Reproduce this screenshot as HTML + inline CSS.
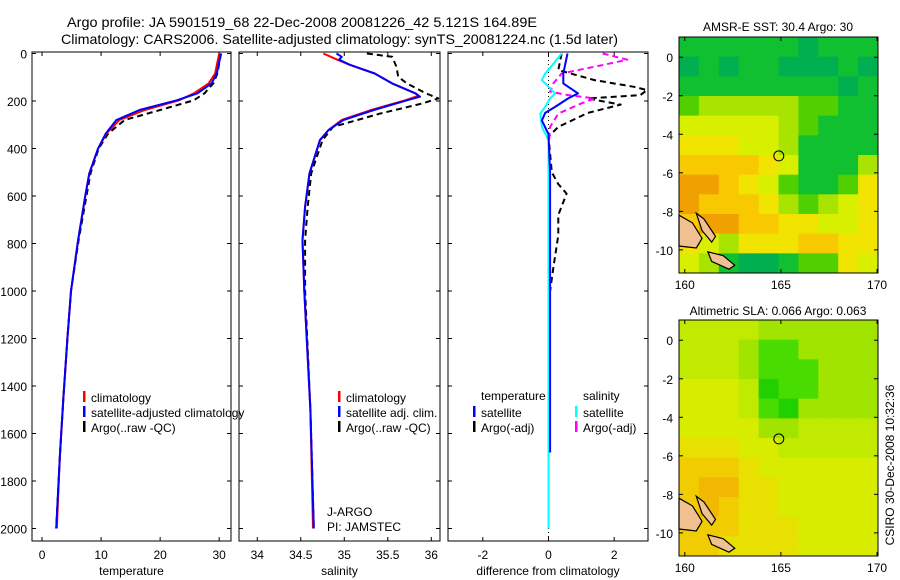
<!DOCTYPE html>
<html><head><meta charset="utf-8">
<style>
html,body{margin:0;padding:0;background:#fff;}
svg{display:block;font-family:"Liberation Sans",sans-serif;}
text{fill:#000;}
</style></head>
<body>
<svg id="fig" width="900" height="580" viewBox="0 0 900 580" xmlns="http://www.w3.org/2000/svg">
<text x="67" y="27" font-size="14" textLength="470" lengthAdjust="spacingAndGlyphs">Argo profile: JA 5901519_68 22-Dec-2008 20081226_42 5.121S 164.89E</text>
<text x="61" y="44" font-size="14" textLength="557" lengthAdjust="spacingAndGlyphs">Climatology: CARS2006. Satellite-adjusted climatology: synTS_20081224.nc (1.5d later)</text>
<text x="778" y="31" font-size="12" text-anchor="middle">AMSR-E SST: 30.4 Argo: 30</text>
<text x="778" y="315" font-size="12" text-anchor="middle">Altimetric SLA: 0.066 Argo: 0.063</text>
<text transform="translate(894,465) rotate(-90)" font-size="12" text-anchor="middle">CSIRO 30-Dec-2008 10:32:36</text>
<g id="plots"></g>
</svg>
<script>
// ---- profile data ----
const depthTicks = [0,200,400,600,800,1000,1200,1400,1600,1800,2000];
const tempTicks = [0,10,20,30];
const salTicks = [34,34.5,35,35.5,36];
const diffTicks = [-2,0,2];

const tClimDepth = [0,84,126,168,197,238,280,337,400,505,604,786,1000,1200,1455,1700,2000];
const tClimVal   = [30.0,29.3,28.2,25.7,23.2,17.4,13.1,10.9,9.5,8.0,7.3,6.1,4.9,4.3,3.6,3.0,2.5];
const tSatDepth  = [0,84,126,168,197,238,280,337,400,505,604,786,1000,1200,1455,1700,2000];
const tSatVal    = [30.3,29.6,28.7,26.3,22.8,16.5,12.6,10.8,9.5,8.0,7.3,6.1,4.9,4.3,3.6,3.0,2.4];
const tArgoDepth = [0,84,126,168,197,238,280,337,400,505,604,786,1000,1200,1455,1700,2000];
const tArgoVal   = [30.3,29.7,29.0,27.5,25.7,20.0,14.0,11.2,9.6,8.2,7.5,6.2,4.9,4.3,3.6,3.0,2.4];

const sClimDepth = [0,26,47,84,126,168,178,197,238,280,322,365,505,645,786,1000,1500,2000];
const sClimVal   = [34.76,34.92,35.06,35.35,35.55,35.82,35.85,35.70,35.31,34.97,34.82,34.72,34.60,34.55,34.52,34.54,34.61,34.64];
const sSatDepth  = [0,14,26,47,84,126,168,182,197,238,280,322,365,505,645,786,1000,1500,2000];
const sSatVal    = [34.91,34.97,34.94,35.06,35.35,35.55,35.82,35.87,35.72,35.34,34.99,34.82,34.72,34.60,34.55,34.52,34.54,34.61,34.65];
const sArgoDepth = [0,14,56,98,126,168,189,210,253,309,365,505,645,786,1000,1500,2000];
const sArgoVal   = [35.26,35.55,35.60,35.62,35.72,35.94,36.08,35.90,35.41,34.87,34.75,34.62,34.58,34.55,34.55,34.61,34.65];

const dTSatDepth = [0,84,126,168,189,225,250,282,340,500,1000,1500,1680];
const dTSatVal   = [0.58,0.45,0.45,0.90,0.60,0.20,-0.10,-0.20,0.0,0.05,0.05,0.05,0.05];
const dSSatDepth = [0,35,84,112,140,168,189,225,253,309,365,600,1000,1500,2000];
const dSSatVal   = [0.40,0.20,-0.10,-0.20,0.0,0.20,0.05,-0.10,-0.25,-0.20,0.0,0.0,0.0,0.0,0.0];
const dSArgoDepth = [0,26,47,84,126,161,175,189,210,253,309,400];
const dSArgoVal   = [1.65,2.40,1.70,0.40,0.15,0.05,0.60,1.40,1.00,0.30,0.05,0.0];
const dTArgoDepth = [0,70,112,140,154,175,189,200,215,250,309,350,500,550,590,680,765,900,1000];
const dTArgoVal   = [0.40,0.30,1.40,2.60,3.00,2.80,1.20,1.60,2.20,1.20,0.30,0.0,0.10,0.30,0.55,0.30,0.30,0.15,0.05];

// ---- map data (digit = colour class) ----
const mapLonTicks = [160,165,170];
const mapLatTicks = [0,-2,-4,-6,-8,-10];
const sstRows = [
 "2222221222","1212211121","2222222212","3444443322","5555543222","6665542222",
 "7777652224","8876532236","8777643456","7887766556","6546667766","5421123365"];
const slaRows = [
 "4444333333","4443223333","4443222333","5554122333","5554213333","5555334444",
 "6665544444","7776555555","7886655555","7876655555","7776665555","7766665555"];
const argoLon = 164.89, argoLat = -5.121;

const NS="http://www.w3.org/2000/svg";
const root=document.getElementById('plots');
function mk(tag,attrs,parent){const e=document.createElementNS(NS,tag);for(const k in attrs)e.setAttribute(k,attrs[k]);(parent||root).appendChild(e);return e;}

const yTop=52,yBot=541,y0=53.5,ypm=0.2375;
const yD=d=>y0+d*ypm;

function panel(name,x0,x1,vmin,vmax,ticks,label,showY){
  const xs=v=>x0+(v-vmin)/(vmax-vmin)*(x1-x0);
  const g=mk('g',{});
  
  
  const fr=mk('rect',{x:x0,y:yTop,width:x1-x0,height:yBot-yTop,fill:'none',stroke:'#000','stroke-width':1},g);
  
  
  depthTicks.forEach(d=>{
    mk('line',{x1:x0,x2:x0+4,y1:yD(d),y2:yD(d),stroke:'#000'},g);
    mk('line',{x1:x1-4,x2:x1,y1:yD(d),y2:yD(d),stroke:'#000'},g);
    if(showY){const t=mk('text',{x:x0-5,y:yD(d)+5,'font-size':12,'text-anchor':'end'},g);t.textContent=d;
      
      }
  });
  ticks.forEach(v=>{
    mk('line',{x1:xs(v),x2:xs(v),y1:yBot,y2:yBot-4,stroke:'#000'},g);
    mk('line',{x1:xs(v),x2:xs(v),y1:yTop,y2:yTop+4,stroke:'#000'},g);
    const t=mk('text',{x:xs(v),y:yBot+18,'font-size':12,'text-anchor':'middle'},g);t.textContent=v;
    
    
  });
  const l=mk('text',{x:(x0+x1)/2,y:575,'font-size':12,'text-anchor':'middle'},g);l.textContent=label;
  
  
  return {g,xs};
}
function line(p,dep,val,color,dash,w,nm){
  const pts=dep.map((d,i)=>p.xs(val[i]).toFixed(1)+','+yD(d).toFixed(1)).join(' ');
  const e=mk('polyline',{points:pts,fill:'none',stroke:color,'stroke-width':w,'stroke-dasharray':dash||'none','stroke-linejoin':'round'},p.g);
  
  
}
function legend(g,x,y,color,txt,nm){
  mk('rect',{x:x,y:y-7,width:2.5,height:11,fill:color},g);
  const t=mk('text',{x:x+8,y:y+4,'font-size':12},g);t.textContent=txt;
  
  
}

const P1=panel('temperature-panel',32,231,-1.7,32.0,tempTicks,'temperature',true);
line(P1,tArgoDepth,tArgoVal,'#000','6,4',2,'temp-argo-line');
line(P1,tClimDepth,tClimVal,'#f00','',2,'temp-climatology-line');
line(P1,tSatDepth,tSatVal,'#00f','',2,'temp-satellite-line');
legend(P1.g,83,398,'#f00','climatology','legend-climatology');
legend(P1.g,83,413,'#00f','satellite-adjusted climatology','legend-satellite-adjusted');
legend(P1.g,83,428,'#000','Argo(..raw -QC)','legend-argo');

const P2=panel('salinity-panel',239,440,33.79,36.1,salTicks,'salinity',false);
line(P2,sArgoDepth,sArgoVal,'#000','6,4',2,'sal-argo-line');
line(P2,sClimDepth,sClimVal,'#f00','',2,'sal-climatology-line');
line(P2,sSatDepth,sSatVal,'#00f','',2,'sal-satellite-line');
legend(P2.g,338,398,'#f00','climatology','legend-climatology');
legend(P2.g,338,413,'#00f','satellite adj. clim.','legend-satellite-adj');
legend(P2.g,338,428,'#000','Argo(..raw -QC)','legend-argo');
const ja=mk('text',{x:327,y:516,'font-size':12},P2.g);ja.textContent='J-ARGO';


const pi=mk('text',{x:327,y:531,'font-size':12},P2.g);pi.textContent='PI: JAMSTEC';



const P3=panel('difference-panel',448,648,-3.06,3.03,diffTicks,'difference from climatology',false);
mk('line',{x1:P3.xs(0),x2:P3.xs(0),y1:yTop,y2:yBot,stroke:'#000','stroke-dasharray':'1,3'},P3.g);
line(P3,dTArgoDepth,dTArgoVal,'#000','6,4',2,'diff-temp-argo-line');
line(P3,dSArgoDepth,dSArgoVal,'#f0f','6,4',2,'diff-sal-argo-line');
line(P3,dSSatDepth,dSSatVal,'#0ff','',2,'diff-sal-satellite-line');
line(P3,dTSatDepth,dTSatVal,'#00f','',2,'diff-temp-satellite-line');
const lt=mk('text',{x:481,y:400,'font-size':12},P3.g);lt.textContent='temperature';


const ls=mk('text',{x:583,y:400,'font-size':12},P3.g);ls.textContent='salinity';


legend(P3.g,473,413,'#00f','satellite','legend-temp-satellite');
legend(P3.g,473,428,'#000','Argo(-adj)','legend-temp-argo');
legend(P3.g,575,413,'#0ff','satellite','legend-sal-satellite');
legend(P3.g,575,428,'#f0f','Argo(-adj)','legend-sal-argo');

// ---- maps ----
const pal=['#00c8c8','#00b050','#10c030','#50d000','#a8e400','#d8f000','#f0e400','#f8c800','#f0a000','#d86000'];
const pal2=['#00c8c8','#20d000','#48dc00','#a0e400','#c0ea00','#d8ec00','#e8e000','#f0cc00','#f0b800','#e0a000'];
function map(name,top,rows,palette){
  const x0=679,x1=878,y1=top+236;
  const lonMin=159.7,lonMax=170.05,latMax=1.05,latMin=-11.2;
  const X=l=>x0+(l-lonMin)/(lonMax-lonMin)*(x1-x0);
  const Y=l=>top+(latMax-l)/(latMax-latMin)*(y1-top);
  const g=mk('g',{});
  
  
  const nr=rows.length,nc=rows[0].length;
  rows.forEach((r,i)=>{
    for(let j=0;j<nc;j++){
      const lo=lonMin+j*(lonMax-lonMin)/nc, hi=lonMin+(j+1)*(lonMax-lonMin)/nc;
      const la=latMax-i*(latMax-latMin)/nr, lb=latMax-(i+1)*(latMax-latMin)/nr;
      const c=mk('rect',{x:X(lo),y:Y(la),width:X(hi)-X(lo)+0.5,height:Y(lb)-Y(la)+0.5,fill:palette[+r[j]]},g);
      
      
    }
  });
  const isl=[[[159.7,-8.2],[160.4,-8.6],[160.9,-9.4],[160.6,-9.9],[159.7,-9.8]],
             [[160.6,-8.1],[161.0,-8.4],[161.6,-9.3],[161.4,-9.6],[160.9,-9.0]],
             [[161.2,-10.1],[162.0,-10.3],[162.6,-10.8],[162.3,-11.0],[161.4,-10.6]]];
  isl.forEach(p=>{const e=mk('polygon',{points:p.map(q=>X(q[0])+','+Y(q[1])).join(' '),fill:'#f0c090',stroke:'#000','stroke-width':1.2},g);
    
    });
  const c=mk('circle',{cx:X(argoLon),cy:Y(argoLat),r:5,fill:'none',stroke:'#000','stroke-width':1},g);
  
  
  mk('rect',{x:x0,y:top,width:x1-x0,height:y1-top,fill:'none',stroke:'#000'},g);
  mapLonTicks.forEach(v=>{
    mk('line',{x1:X(v),x2:X(v),y1:y1,y2:y1-4,stroke:'#000'},g);
    mk('line',{x1:X(v),x2:X(v),y1:top,y2:top+4,stroke:'#000'},g);
    const t=mk('text',{x:X(v),y:y1+16,'font-size':12,'text-anchor':'middle'},g);t.textContent=v;
    
    
  });
  mapLatTicks.forEach(v=>{
    mk('line',{x1:x0,x2:x0+4,y1:Y(v),y2:Y(v),stroke:'#000'},g);
    mk('line',{x1:x1-4,x2:x1,y1:Y(v),y2:Y(v),stroke:'#000'},g);
    const t=mk('text',{x:x0-6,y:Y(v)+5,'font-size':12,'text-anchor':'end'},g);t.textContent=v;
    
    
  });
}
map('sst-map',37,sstRows,pal);
map('sla-map',320,slaRows,pal2);
</script>
</body></html>
